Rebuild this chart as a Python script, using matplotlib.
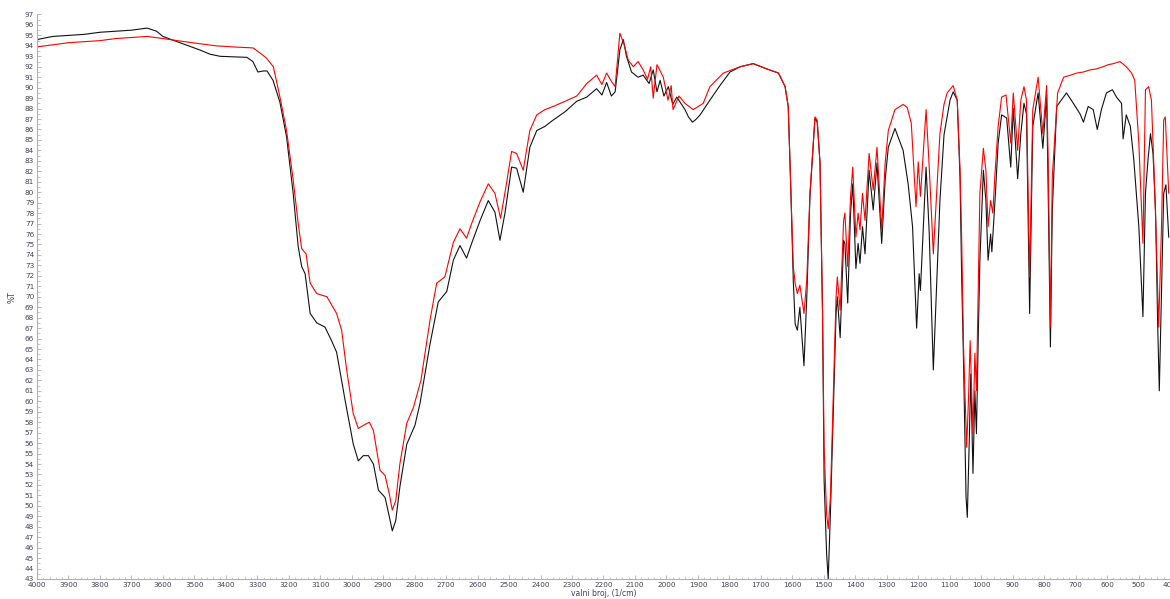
import matplotlib
matplotlib.use("Agg")
import matplotlib.pyplot as plt
from matplotlib.ticker import MultipleLocator

# ---- data: black spectrum (wavenumber, %T) ----
black_wn = [4000, 3950, 3900, 3850, 3800, 3750, 3700, 3650, 3620, 3600, 3555, 3520, 3482, 3450, 3418, 3387,
            3333, 3314, 3298, 3280, 3269, 3250, 3228, 3207, 3186, 3170, 3159, 3148, 3132, 3111, 3085, 3064,
            3048, 3021, 2995, 2979, 2963, 2947, 2931, 2915, 2894, 2880, 2871, 2860, 2847, 2825, 2799, 2783,
            2751, 2725, 2698, 2677, 2656, 2635, 2619, 2592, 2566, 2545, 2529, 2513, 2492, 2476, 2455, 2434,
            2412, 2386, 2360, 2322, 2285, 2253, 2222, 2205, 2190, 2175, 2163, 2148, 2137, 2127, 2111, 2090,
            2074, 2055, 2042, 2030, 2020, 2008, 1994, 1980, 1967, 1941, 1930, 1917, 1905, 1893, 1862, 1830,
            1798, 1766, 1724, 1682, 1644, 1623, 1613, 1605, 1597, 1591, 1584, 1576, 1563, 1554, 1544, 1528,
            1521, 1512, 1504, 1499, 1491, 1486, 1479, 1470, 1461, 1457, 1448, 1437, 1433, 1424, 1415, 1408,
            1398, 1391, 1385, 1377, 1369, 1356, 1343, 1331, 1316, 1305, 1295, 1274, 1248, 1232, 1218, 1205,
            1197, 1193, 1175, 1165, 1152, 1131, 1118, 1099, 1089, 1076, 1067, 1062, 1057, 1048, 1044, 1037,
            1033, 1026, 1020, 1015, 1009, 1004, 993, 985, 978, 970, 966, 956, 946, 935, 919, 906,
            898, 884, 874, 864, 856, 846, 836, 819, 804, 792, 787, 780, 774, 760, 729, 707,
            686, 675, 660, 644, 631, 618, 602, 583, 570, 554, 549, 539, 526, 515, 499, 486,
            478, 469, 462, 454, 446, 439, 434, 427, 420, 413, 404]
black_t = [94.6, 94.9, 95.0, 95.1, 95.3, 95.4, 95.5, 95.7, 95.4, 94.9, 94.4, 94.0, 93.6, 93.2, 93.0, 92.96,
           92.9, 92.5, 91.5, 91.6, 91.6, 90.7, 88.6, 85.3, 79.9, 74.8, 72.9, 72.2, 68.4, 67.5, 67.1, 65.8,
           64.7, 60.1, 55.9, 54.3, 54.8, 54.8, 54.0, 51.5, 50.8, 48.9, 47.6, 48.6, 51.8, 55.9, 57.7, 59.8,
           65.5, 69.5, 70.5, 73.5, 74.9, 73.7, 75.1, 77.3, 79.2, 78.1, 75.4, 78.0, 82.4, 82.3, 80.0, 84.3,
           85.9, 86.3, 86.9, 87.7, 88.7, 89.1, 89.9, 89.3, 90.5, 89.2, 89.6, 93.6, 94.6, 93.0, 91.5, 91.0,
           91.2, 90.4, 91.7, 89.6, 90.7, 89.2, 90.1, 88.4, 89.1, 87.9, 87.2, 86.7, 87.0, 87.4, 88.8, 90.2,
           91.5, 92.0, 92.3, 91.8, 91.4, 90.1, 88.2, 80.5, 71.6, 67.4, 66.8, 69.0, 63.4, 70.0, 79.6, 87.1,
           86.7, 82.8, 68.4, 52.4, 45.4, 43.0, 49.2, 58.8, 68.4, 70.0, 66.1, 75.4, 75.1, 69.4, 78.0, 80.8,
           72.7, 75.1, 73.2, 76.7, 74.1, 82.1, 78.3, 82.8, 75.1, 81.2, 84.3, 86.1, 84.0, 80.8, 76.7, 67.0,
           72.2, 70.6, 82.4, 76.1, 63.0, 79.2, 85.5, 88.8, 89.6, 88.8, 81.2, 71.9, 65.2, 50.8, 48.9, 57.2,
           62.6, 53.1, 61.0, 56.9, 66.5, 73.5, 82.1, 79.2, 73.5, 76.0, 74.3, 79.2, 84.7, 87.4, 87.1, 82.4,
           88.0, 81.3, 85.6, 88.5, 87.5, 68.4, 86.3, 89.5, 84.2, 89.3, 79.9, 65.2, 78.3, 88.2, 89.5, 88.5,
           87.5, 86.7, 88.2, 87.9, 86.0, 87.9, 89.5, 89.8, 89.1, 88.5, 85.1, 87.4, 86.3, 83.1, 76.7, 68.1,
           79.9, 83.4, 85.6, 83.7, 78.3, 67.1, 61.0, 70.3, 79.9, 80.7, 75.7]

# ---- data: red spectrum (wavenumber, %T) ----
red_wn = [4000, 3950, 3900, 3850, 3800, 3750, 3700, 3650, 3600, 3555, 3482, 3430, 3377, 3313, 3282, 3270,
          3249, 3228, 3207, 3186, 3170, 3159, 3145, 3132, 3111, 3079, 3048, 3032, 3016, 2995, 2979, 2963,
          2944, 2931, 2910, 2894, 2881, 2871, 2860, 2847, 2825, 2804, 2780, 2751, 2730, 2704, 2677, 2656,
          2635, 2619, 2592, 2566, 2545, 2527, 2510, 2492, 2476, 2455, 2434, 2412, 2386, 2360, 2322, 2285,
          2253, 2222, 2205, 2190, 2175, 2163, 2148, 2135, 2121, 2105, 2090, 2074, 2060, 2050, 2042, 2030,
          2010, 1995, 1985, 1979, 1960, 1941, 1915, 1883, 1862, 1819, 1766, 1724, 1682, 1644, 1623, 1613,
          1605, 1597, 1591, 1584, 1576, 1563, 1554, 1544, 1528, 1521, 1512, 1504, 1499, 1491, 1486, 1479,
          1470, 1461, 1457, 1448, 1437, 1433, 1424, 1415, 1408, 1398, 1391, 1385, 1377, 1369, 1356, 1343,
          1331, 1316, 1305, 1295, 1274, 1248, 1235, 1222, 1207, 1200, 1193, 1175, 1165, 1152, 1131, 1118,
          1108, 1089, 1076, 1067, 1062, 1056, 1046, 1040, 1035, 1026, 1020, 1015, 1004, 993, 985, 978,
          970, 963, 956, 946, 935, 921, 906, 898, 884, 874, 864, 856, 846, 836, 819, 804,
          792, 787, 780, 774, 757, 738, 716, 696, 675, 654, 634, 613, 596, 580, 559, 539,
          522, 512, 499, 486, 478, 468, 459, 452, 444, 436, 427, 420, 415, 404]
red_t = [93.9, 94.1, 94.3, 94.4, 94.5, 94.7, 94.8, 94.9, 94.7, 94.5, 94.2, 94.0, 93.9, 93.8, 93.1, 92.8,
         92.0, 89.1, 85.9, 81.2, 77.0, 74.6, 74.1, 71.3, 70.3, 70.0, 68.4, 66.8, 63.0, 58.8, 57.4, 57.7,
         58.0, 57.2, 53.4, 52.9, 51.2, 49.6, 50.5, 54.0, 57.9, 59.4, 62.0, 67.8, 71.3, 71.9, 75.2, 76.5,
         75.6, 77.0, 79.1, 80.8, 79.9, 77.5, 80.5, 83.9, 83.7, 82.1, 85.9, 87.4, 87.9, 88.2, 88.7, 89.2,
         90.4, 91.2, 90.3, 91.4, 90.6, 90.1, 95.2, 94.2, 92.6, 92.0, 92.5, 91.7, 90.8, 92.0, 89.0, 92.2,
         91.0, 88.8, 90.2, 87.9, 89.2, 88.5, 87.9, 88.5, 90.1, 91.4, 92.0, 92.3, 91.8, 91.4, 90.1, 88.2,
         80.5, 72.9, 71.3, 70.3, 71.1, 68.4, 71.6, 79.9, 87.2, 86.9, 82.8, 68.4, 55.6, 49.2, 47.8, 50.8,
         60.4, 70.0, 71.9, 68.7, 77.3, 78.0, 72.9, 79.6, 82.4, 75.7, 78.0, 76.4, 79.9, 77.3, 83.7, 80.2,
         84.3, 76.4, 82.8, 85.9, 87.9, 88.4, 88.1, 86.6, 78.6, 82.9, 79.6, 87.9, 82.4, 74.1, 85.6, 88.4,
         89.5, 90.2, 88.8, 82.1, 75.7, 65.2, 55.6, 60.4, 65.8, 56.9, 64.6, 61.0, 79.9, 84.2, 82.1, 76.7,
         79.2, 78.0, 81.8, 86.3, 89.1, 89.3, 84.7, 89.5, 84.0, 88.8, 90.1, 88.8, 71.9, 87.9, 91.0, 85.6,
         90.2, 83.1, 67.1, 81.5, 89.5, 91.0, 91.2, 91.4, 91.5, 91.7, 91.8, 92.0, 92.2, 92.3, 92.5, 92.0,
         91.4, 90.7, 84.7, 75.1, 89.8, 90.1, 88.8, 83.1, 76.0, 67.1, 76.7, 86.9, 87.2, 79.9]

xticks = list(range(4000, 399, -100))
yticks = list(range(43, 98))

fig = plt.figure(figsize=(11.70, 5.99), dpi=100)
ax = fig.add_axes([0.0316, 0.0334, 0.9684, 0.9424])

ax.plot(black_wn, black_t, color="#111111", lw=0.8)
ax.plot(red_wn, red_t, color="#ff0000", lw=0.8)

ax.set_xlim(4000, 400)
ax.set_ylim(43, 97)
ax.set_xticks(xticks)
ax.set_xticklabels([str(t) for t in xticks])
ax.set_yticks(yticks)
ax.set_yticklabels([str(t) for t in yticks])
ax.xaxis.set_minor_locator(MultipleLocator(20))
ax.yaxis.set_minor_locator(MultipleLocator(0.5))

for s in ["top", "right"]:
    ax.spines[s].set_visible(False)
for s in ["left", "bottom"]:
    ax.spines[s].set_color("#b0b0b0")
    ax.spines[s].set_linewidth(0.8)

ax.tick_params(axis="both", which="major", direction="in", length=3, width=0.6,
               color="#b0b0b0", labelsize=5.2, labelcolor="#404050", pad=2)
ax.tick_params(axis="both", which="minor", direction="in", length=1.8, width=0.5, color="#b0b0b0")

ax.set_xlabel("valni broj, (1/cm)", fontsize=5.5, color="#404050", labelpad=1)
ax.set_ylabel("%T", fontsize=5.5, color="#404050", labelpad=6)

fig.savefig("out.png", dpi=100)
